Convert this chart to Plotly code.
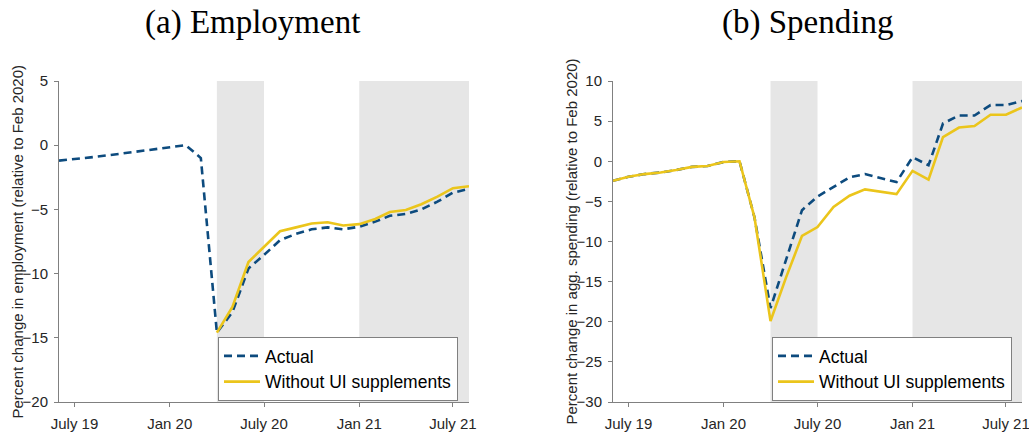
import plotly.graph_objects as go

# ---------------- data ----------------
months = [
    "2019-06-01", "2019-07-01", "2019-08-01", "2019-09-01", "2019-10-01", "2019-11-01", "2019-12-01",
    "2020-01-01", "2020-02-01", "2020-03-01", "2020-04-01", "2020-05-01", "2020-06-01", "2020-07-01",
    "2020-08-01", "2020-09-01", "2020-10-01", "2020-11-01", "2020-12-01",
    "2021-01-01", "2021-02-01", "2021-03-01", "2021-04-01", "2021-05-01", "2021-06-01", "2021-07-01",
    "2021-08-01",
]

emp_actual = [-1.2, -1.05, -0.95, -0.8, -0.65, -0.5, -0.35, -0.2, 0.0, -1.0,
              -14.6, -13.0, -9.6, -8.55, -7.4, -6.9, -6.55, -6.4, -6.55,
              -6.35, -5.95, -5.5, -5.35, -5.0, -4.4, -3.7, -3.4]
emp_no_ui = [None, None, None, None, None, None, None, None, None, None,
             -14.6, -12.6, -9.1, -7.9, -6.7, -6.4, -6.1, -6.0, -6.25,
             -6.15, -5.75, -5.2, -5.05, -4.6, -4.0, -3.35, -3.2]

spend_actual = [-2.43, -1.94, -1.6, -1.4, -1.1, -0.7, -0.6, -0.1, 0.0, -7.0,
                -18.3, -12.3, -6.1, -4.4, -3.2, -2.0, -1.6, -2.1, -2.6,
                0.5, -0.5, 4.7, 5.7, 5.7, 7.0, 7.0, 7.5]
spend_no_ui = [-2.43, -1.94, -1.6, -1.4, -1.1, -0.7, -0.6, -0.1, 0.0, -7.0,
               -19.9, -14.5, -9.3, -8.2, -5.7, -4.3, -3.5, -3.8, -4.1,
               -1.2, -2.3, 3.0, 4.2, 4.4, 5.8, 5.8, 6.7]

tick_dates = ["2019-07-01", "2020-01-01", "2020-07-01", "2021-01-01", "2021-07-01"]
tick_labels = ["July 19", "Jan 20", "July 20", "Jan 21", "July 21"]
shade_periods = [("2020-04-01", "2020-07-01"), ("2021-01-01", "2021-08-01")]
x_range = ["2019-06-01", "2021-08-01"]

series_names = ["Actual", "Without UI supplements"]
panel_titles = ["(a) Employment", "(b) Spending"]
y_titles = ["Percent change in employment (relative to Feb 2020)",
            "Percent change in agg. spending (relative to Feb 2020)"]

# ---------------- styling ----------------
NAVY = "#0d4b7e"
GOLD = "#ebc51b"
AXIS = "#808080"
TXT = "#262626"
SHADE = "#e6e6e6"
SANS = "Liberation Sans, Arial, sans-serif"
SERIF = "Liberation Serif, Times New Roman, serif"

W, H = 1029, 432
L, R, T, B = 59, 7, 81, 30
pw = W - L - R
ph = H - T - B


def px_x(p):
    return (p - L) / pw


def px_y(p):
    return (H - B - p) / ph


fig = go.Figure()

panels = [("x", "y", "legend", emp_actual, emp_no_ui),
          ("x2", "y2", "legend2", spend_actual, spend_no_ui)]
for xa, ya, lg, act, noui in panels:
    fig.add_trace(go.Scatter(x=months, y=act, name=series_names[0], mode="lines",
                             line=dict(color=NAVY, width=2.6, dash="8px,5px"),
                             xaxis=xa, yaxis=ya, legend=lg))
    fig.add_trace(go.Scatter(x=months, y=noui, name=series_names[1], mode="lines",
                             line=dict(color=GOLD, width=2.6),
                             xaxis=xa, yaxis=ya, legend=lg, connectgaps=False))

shapes = []
for xa, ya in [("x", "y"), ("x2", "y2")]:
    for s0, s1 in shade_periods:
        shapes.append(dict(type="rect", xref=xa, yref=f"{ya} domain", x0=s0, x1=s1,
                           y0=0, y1=1, fillcolor=SHADE, line=dict(width=0), layer="below"))

xcommon = dict(type="date", range=x_range, tickmode="array", tickvals=tick_dates,
               ticktext=tick_labels, showgrid=False, zeroline=False, showline=True,
               linecolor=AXIS, linewidth=1, ticks="outside", ticklen=4, tickcolor=AXIS,
               ticklabelstandoff=4, automargin=False, ticklabeloverflow="allow",
               tickfont=dict(family=SANS, size=15, color=TXT))
ycommon = dict(showgrid=False, zeroline=False, showline=True, linecolor=AXIS, linewidth=1,
               ticks="outside", ticklen=4, tickcolor=AXIS, dtick=5,
               ticklabelstandoff=3, automargin=False, ticklabeloverflow="allow",
               tickfont=dict(family=SANS, size=15, color=TXT))

legcommon = dict(xanchor="right", yanchor="bottom", bgcolor="white", bordercolor=AXIS,
                 borderwidth=1, font=dict(family=SANS, size=17.5, color="black"),
                 tracegroupgap=0, itemwidth=36)

annotations = [
    dict(text=panel_titles[0], x=px_x(252), y=px_y(23), xref="paper", yref="paper",
         showarrow=False, xanchor="center", yanchor="middle",
         font=dict(family=SERIF, size=33, color="black")),
    dict(text=panel_titles[1], x=px_x(807), y=px_y(23), xref="paper", yref="paper",
         showarrow=False, xanchor="center", yanchor="middle",
         font=dict(family=SERIF, size=33, color="black")),
    dict(text=y_titles[0], x=px_x(17), y=0.5, xref="paper", yref="paper",
         showarrow=False, xanchor="center", yanchor="middle", textangle=-90,
         font=dict(family=SANS, size=15, color=TXT)),
    dict(text=y_titles[1], x=px_x(571), y=0.5, xref="paper", yref="paper",
         showarrow=False, xanchor="center", yanchor="middle", textangle=-90,
         font=dict(family=SANS, size=15, color=TXT)),
]

fig.update_layout(
    width=W, height=H,
    margin=dict(l=L, r=R, t=T, b=B, pad=0, autoexpand=False),
    paper_bgcolor="white", plot_bgcolor="white",
    showlegend=True,
    xaxis=dict(domain=[0, px_x(469)], anchor="y", **xcommon),
    yaxis=dict(domain=[0, 1], anchor="x", range=[-20, 5], **ycommon),
    xaxis2=dict(domain=[px_x(613), 1], anchor="y2", **xcommon),
    yaxis2=dict(domain=[0, 1], anchor="x2", range=[-30, 10], **ycommon),
    legend=dict(x=px_x(458), y=px_y(401), **legcommon),
    legend2=dict(x=px_x(1012), y=px_y(401), **legcommon),
    shapes=shapes,
    annotations=annotations,
)

fig.write_html("out.html", config={"displayModeBar": False},
               post_script="document.body.style.margin='0px';")
